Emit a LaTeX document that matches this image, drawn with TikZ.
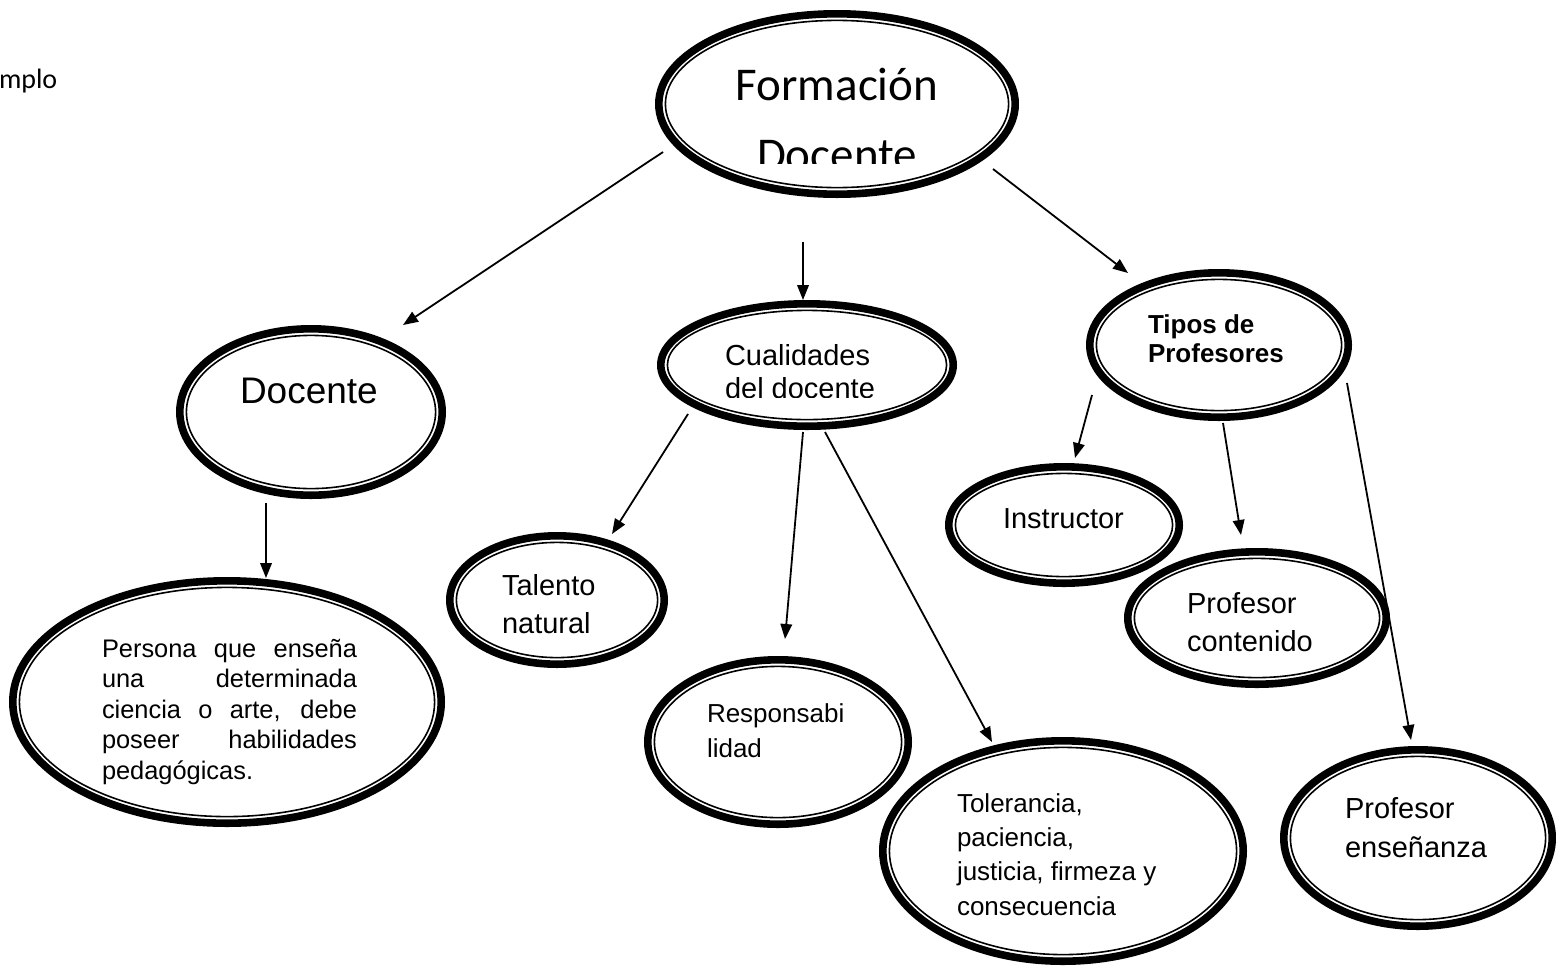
\documentclass[tikz,border=0pt]{standalone}
\usepackage{fontspec}
\setmainfont{Liberation Sans}
\newfontfamily\calibri{Carlito}
\usetikzlibrary{arrows.meta,calc,shapes.geometric}

% name, cx, cy, rx, ry  (pixel units of the reference)
\newcommand{\myell}[5]{%
  \node[ellbox, minimum width={(2*#4-7.6)*0.5pt}, minimum height={(2*#5-7.6)*0.5pt}] (#1) at (#2,#3) {};
  \draw[line width=0.8pt] (#1.center) ellipse ({(#4-10.4)*0.5pt} and {(#5-10.4)*0.5pt});
}
\newcommand{\jline}[1]{\makebox[127.5pt][s]{#1}}

\tikzset{
  ellbox/.style={ellipse, draw, line width=3.8pt, inner sep=0pt, outer sep=0pt},
  arr/.style={-{Triangle[length=7.5pt,width=5.8pt]}, line width=0.9pt},
  txt/.style={inner sep=0pt, outer sep=0pt, anchor=base west, align=left},
}

\begin{document}
\begin{tikzpicture}[x=0.5pt, y=-0.5pt]
\useasboundingbox (0,0) rectangle (1556,975);

% ellipses
\myell{fd}{837}{104}{182}{94}
\myell{doc}{311}{412}{135}{87}
\myell{per}{227}{702}{218}{125}
\myell{cual}{807}{365}{150}{65}
\myell{tipos}{1219}{345}{133}{76}
\myell{ins}{1064}{525}{119}{62}
\myell{cont}{1257}{618}{133}{70}
\myell{ens}{1418}{838}{138}{92}
\myell{tal}{557}{600}{111}{68}
\myell{resp}{778}{742}{134}{86}
\myell{tol}{1063}{851}{184}{114}

% texts (base anchor = baseline of the last line)
\node[txt, font=\calibri\fontsize{14}{17}\selectfont] (ej) at (-1,88) {mplo};

\begin{scope}
  \clip (600,0) rectangle (1100,163);
  \node[inner sep=0pt, anchor=base, align=center, font=\calibri\fontsize{23.5}{35}\selectfont] (fd-t) at (837,170) {Formación\\Docente};
\end{scope}

\node[txt, font=\fontsize{18.5}{22}\selectfont] (doc-t) at (240,403) {Docente};

\begin{scope}
  \clip (650,300) rectangle (960,397);
  \node[txt, font=\fontsize{14.5}{16.5}\selectfont] (cual-t) at (725,398) {Cualidades\\del docente};
\end{scope}

\node[txt, font=\bfseries\fontsize{13}{14.5}\selectfont] (tipos-t) at (1148,362) {Tipos de\\Profesores};
\node[txt, font=\fontsize{14.5}{17}\selectfont] (ins-t) at (1003,528) {Instructor};
\node[txt, font=\fontsize{14.5}{19}\selectfont] (cont-t) at (1187,651) {Profesor\\contenido};
\node[txt, font=\fontsize{14.5}{19.5}\selectfont] (ens-t) at (1345,857) {Profesor\\enseñanza};
\node[txt, font=\fontsize{14.5}{19}\selectfont] (tal-t) at (502,633) {Talento\\natural};
\node[txt, font=\fontsize{13}{17.5}\selectfont] (resp-t) at (707,757) {Responsabi\\lidad};
\node[txt, font=\fontsize{13}{17.15}\selectfont] (tol-t) at (957,915) {Tolerancia,\\paciencia,\\justicia, firmeza y\\consecuencia};
\node[txt, font=\fontsize{12.7}{15.25}\selectfont] (per-t) at (102,779)
  {\jline{Persona que enseña}\\\jline{una determinada}\\\jline{ciencia o arte, debe}\\\jline{poseer habilidades}\\pedagógicas.};

% connectors
\draw[arr] ($(fd.center)+(-174,48)$) -- ($(doc.center)+(92,-87)$);
\draw[arr] ($(fd.center)+(-34,138)$) -- ($(cual.center)+(-4,-65)$);
\draw[arr] ($(fd.center)+(156,65)$) -- ($(tipos.center)+(-91,-72)$);
\draw[arr] ($(doc.center)+(-45,91)$) -- ($(per.center)+(39,-124)$);
\draw[arr] ($(cual.center)+(-119,49)$) -- ($(tal.center)+(55,-66)$);
\draw[arr] ($(cual.center)+(-4,67)$) -- ($(resp.center)+(7,-103)$);
\draw[arr] ($(cual.center)+(18,67)$) -- ($(tol.center)+(-71,-109)$);
\draw[arr] ($(tipos.center)+(-127,50)$) -- ($(ins.center)+(11,-67)$);
\draw[arr] ($(tipos.center)+(4,78)$) -- ($(cont.center)+(-16,-83)$);
\draw[arr] ($(tipos.center)+(128,38)$) -- ($(ens.center)+(-7,-98)$);
\end{tikzpicture}
\end{document}
